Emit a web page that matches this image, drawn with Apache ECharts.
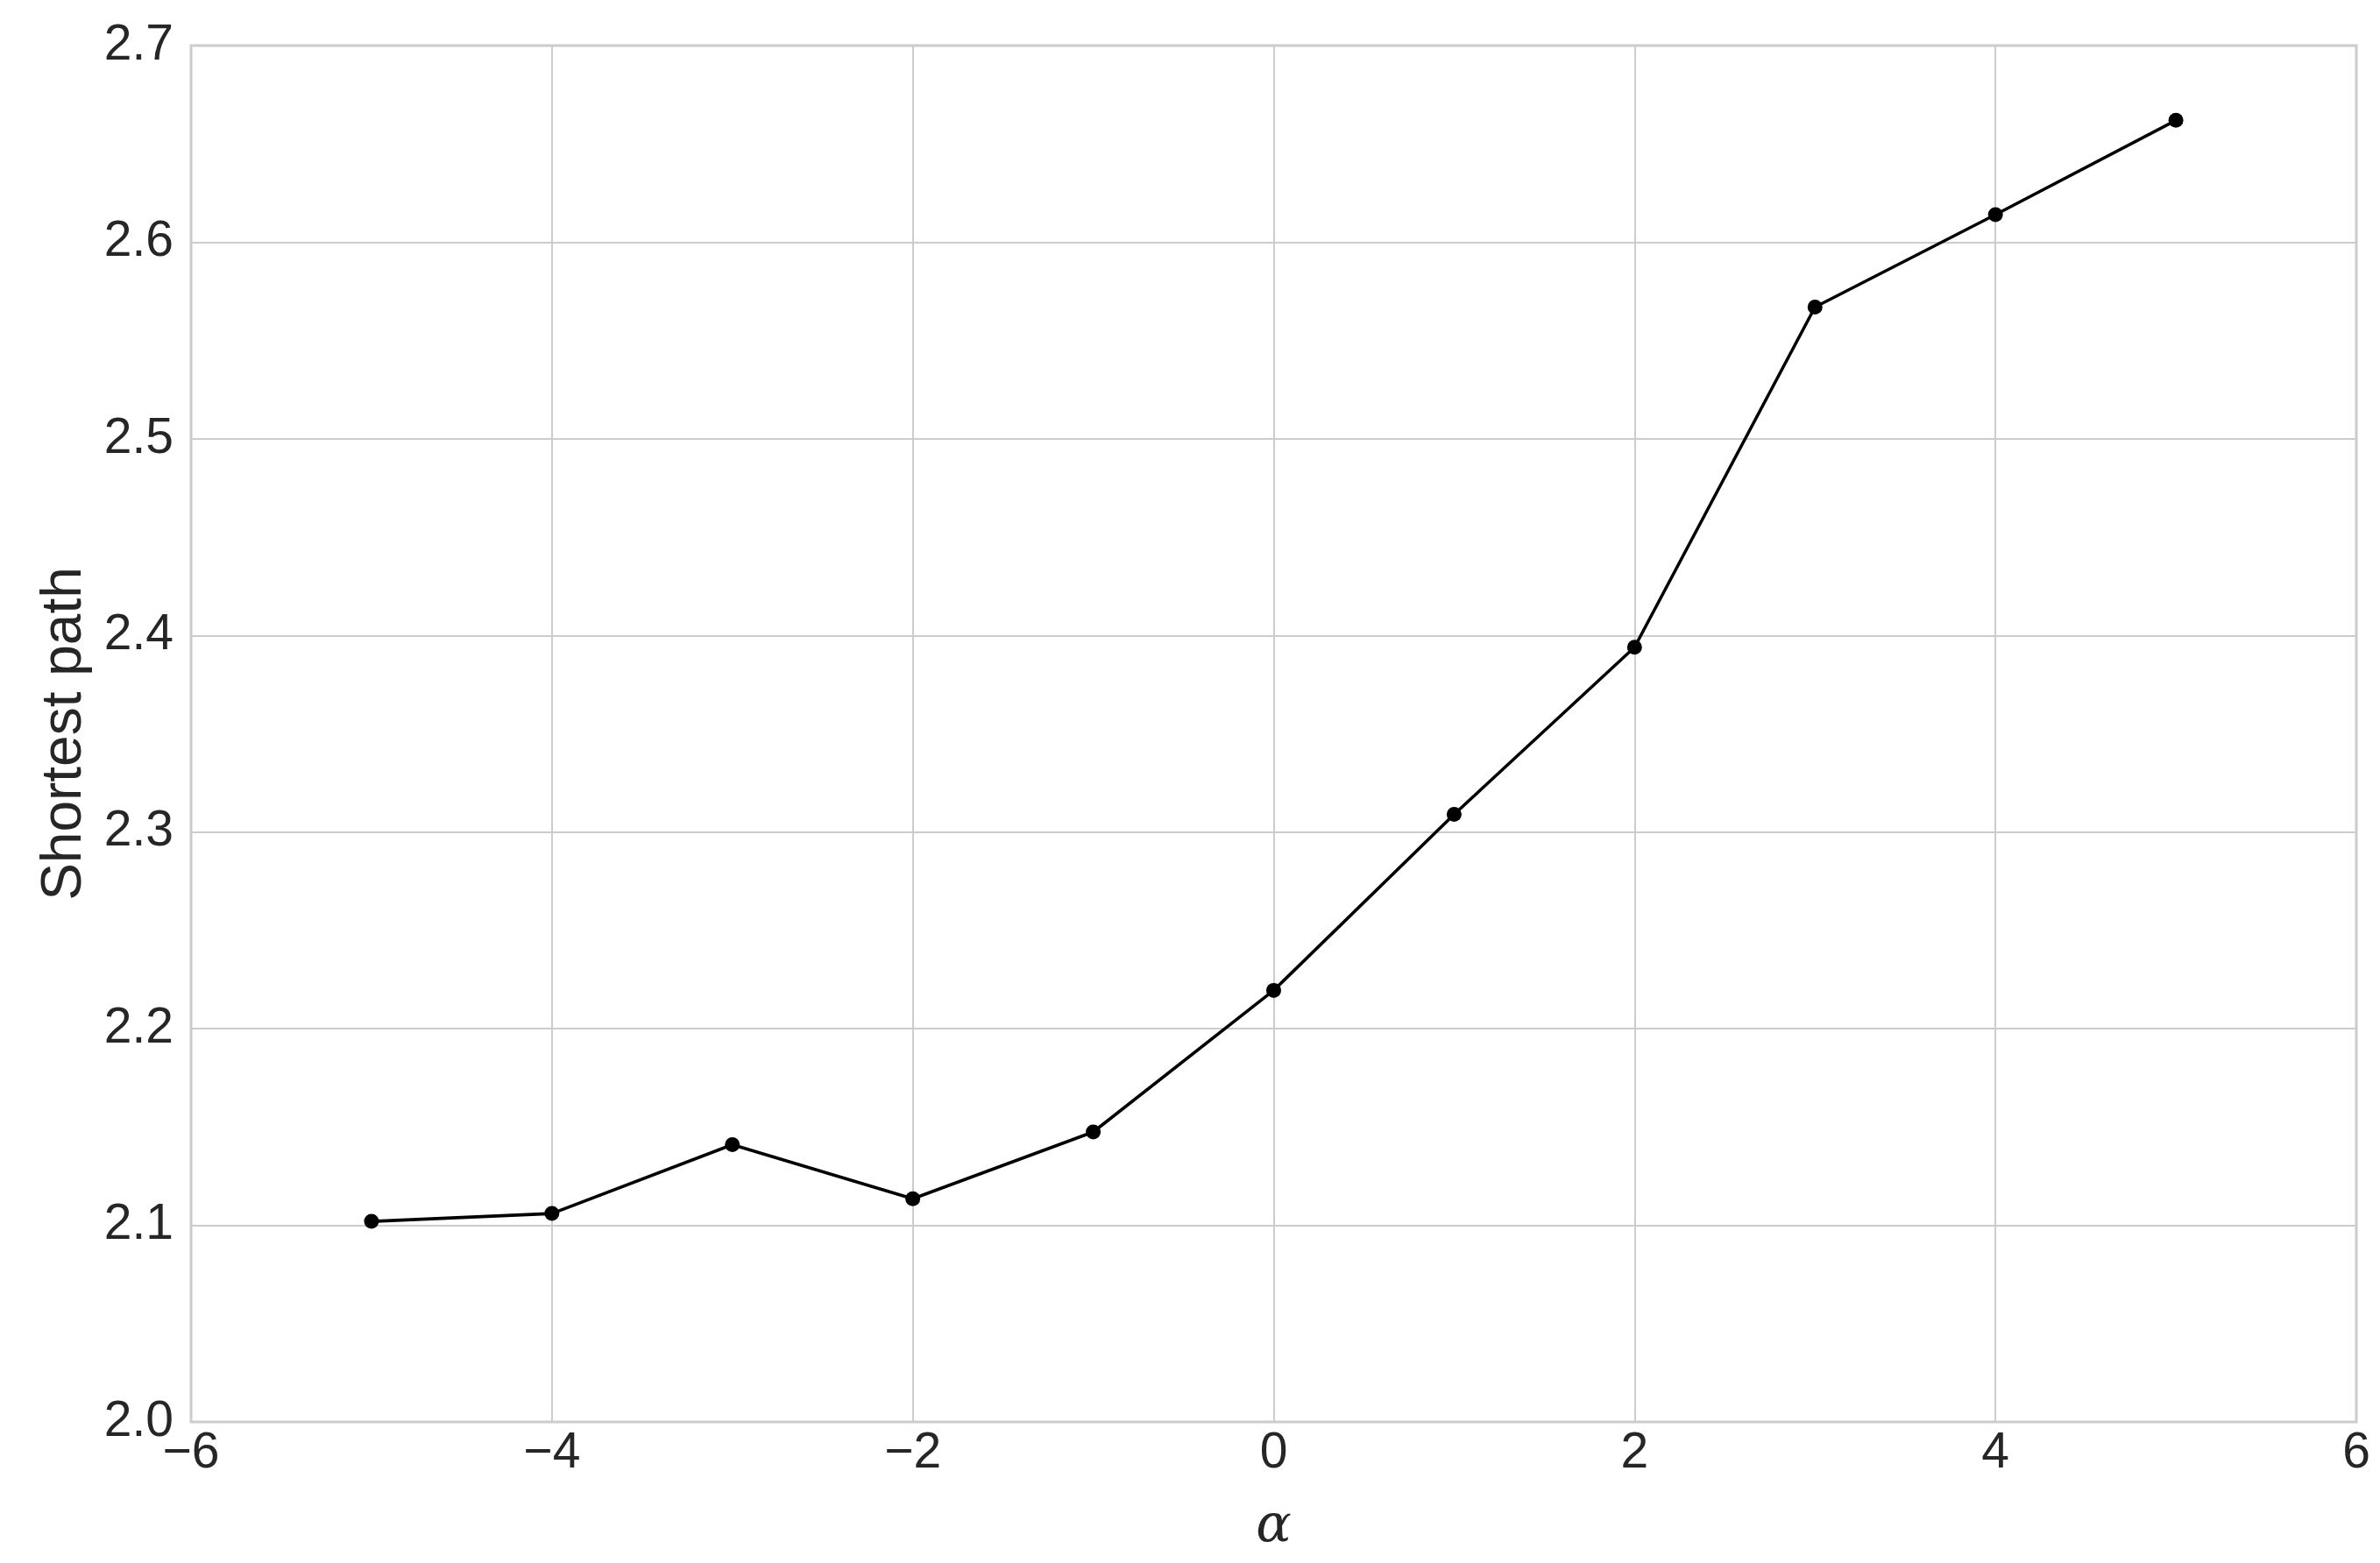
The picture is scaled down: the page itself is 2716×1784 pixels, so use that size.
<!DOCTYPE html>
<html>
<head>
<meta charset="utf-8">
<title>Shortest path vs alpha</title>
<script src="https://cdn.jsdelivr.net/npm/echarts@6/dist/echarts.min.js"></script>
<style>
  html, body { margin: 0; padding: 0; background: #fff; }
  #chart { width: 2716px; height: 1784px; }
</style>
</head>
<body>
<div id="chart"></div>
<script>
// data
var alphaValues = [-5, -4, -3, -2, -1, 0, 1, 2, 3, 4, 5];
var shortestPath = [2.102, 2.106, 2.141, 2.1135, 2.1475, 2.2195, 2.309, 2.394, 2.567, 2.614, 2.662];
var xTicks = { min: -6, max: 6, step: 2 };
var yTicks = { min: 2.0, max: 2.7, step: 0.1 };

var textColor = '#262626';
var gridColor = '#cccccc';
var fontFamily = '"Liberation Sans", Arial, sans-serif';

var seriesData = alphaValues.map(function (a, i) { return [a, shortestPath[i]]; });

var myChart = echarts.init(document.getElementById('chart'));

var option = {
  backgroundColor: '#ffffff',
  animation: false,
  grid: {
    left: 218,
    right: 27,
    top: 52,
    bottom: 161,
    show: true,
    borderColor: gridColor,
    borderWidth: 3
  },
  xAxis: {
    type: 'value',
    min: xTicks.min,
    max: xTicks.max,
    interval: xTicks.step,
    name: 'α',
    nameLocation: 'middle',
    nameGap: 90,
    nameTextStyle: {
      fontFamily: '"DejaVu Serif", "Liberation Serif", serif',
      fontStyle: 'italic',
      fontSize: 60,
      color: textColor
    },
    axisLine: { show: false },
    axisTick: { show: false },
    splitLine: { show: true, lineStyle: { color: gridColor, width: 2 } },
    axisLabel: {
      margin: 8,
      fontSize: 57,
      fontFamily: fontFamily,
      color: textColor,
      formatter: function (v) { return String(v).replace('-', '\u2212'); }
    }
  },
  yAxis: {
    type: 'value',
    min: yTicks.min,
    max: yTicks.max,
    interval: yTicks.step,
    name: 'Shortest path',
    nameLocation: 'middle',
    nameGap: 112,
    nameTextStyle: {
      fontFamily: fontFamily,
      fontSize: 64,
      color: textColor
    },
    axisLine: { show: false },
    axisTick: { show: false },
    splitLine: { show: true, lineStyle: { color: gridColor, width: 2 } },
    axisLabel: {
      margin: 20,
      fontSize: 57,
      fontFamily: fontFamily,
      color: textColor,
      padding: [0, 0, 14, 0],
      formatter: function (v) { return v.toFixed(1); }
    }
  },
  series: [
    {
      type: 'line',
      data: seriesData,
      symbol: 'circle',
      symbolSize: 17,
      itemStyle: { color: '#000000' },
      lineStyle: { color: '#000000', width: 3.6 },
      z: 5
    }
  ]
};

myChart.setOption(option);
</script>
</body>
</html>
